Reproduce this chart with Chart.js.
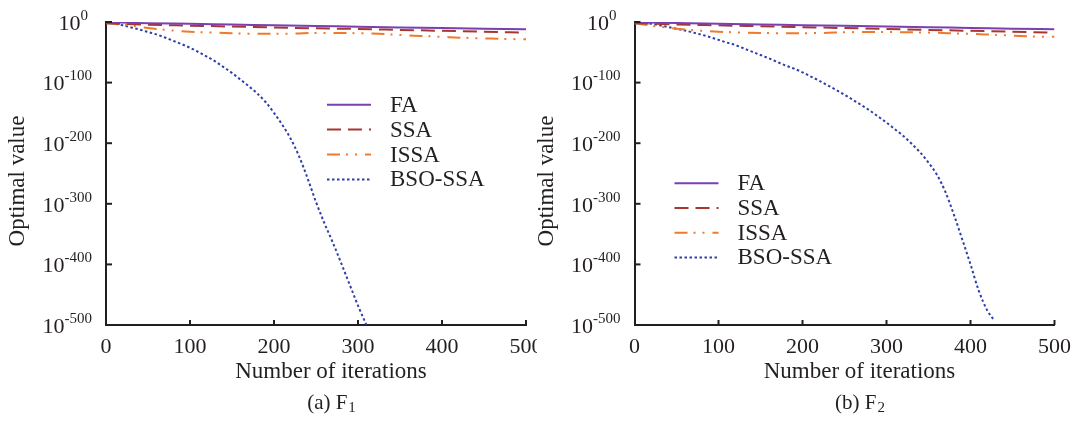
<!DOCTYPE html>
<html><head><meta charset="utf-8">
<script src="https://cdn.jsdelivr.net/npm/chart.js@4.4.0/dist/chart.umd.min.js"></script>
<style>
html,body{margin:0;padding:0;background:#fff;}
#wrap{position:relative;width:1075px;height:421px;overflow:hidden;}
.panel{position:absolute;top:0;height:421px;}
canvas{display:block;}
</style></head><body>
<div id="wrap">
<div class="panel" style="left:0;width:537px"><canvas id="c1" width="537" height="421"></canvas></div>
<div class="panel" style="left:537px;width:538px"><canvas id="c2" width="538" height="421"></canvas></div>
</div>
<script>
// ---------- data (y values are log10 of the optimal value) ----------
const seriesNames = ['FA', 'SSA', 'ISSA', 'BSO-SSA'];
const xTicks = [0, 100, 200, 300, 400, 500];
const yTickExponents = [0, -100, -200, -300, -400, -500];
const xTitle = 'Number of iterations';
const yTitle = 'Optimal value';

const iter50 = [0, 50, 100, 150, 200, 250, 300, 350, 400, 450, 500];
const iter25 = [0, 25, 50, 75, 100, 125, 150, 175, 200, 225, 250, 275, 300, 325, 350, 375, 400, 425, 450, 475, 500];

// Panel (a) F1
const f1FA   = [-0.5, -2, -3, -4.2, -5.3, -6.5, -7.7, -8.9, -10, -11, -12];
const f1SSA  = [-2, -4.5, -6, -7.5, -9, -10.5, -11.5, -13, -14.5, -16, -17.5];
const f1ISSA = [-2, -5, -10, -13.5, -16, -17.5, -18.5, -19.5, -19.5, -19, -18, -18, -18.5, -19.5, -21.5, -23, -24.5, -26, -27, -28, -28.5];
const f1BSOIter = [0, 10, 20, 30, 40, 50, 60, 70, 80, 90, 100, 110, 120, 130, 140, 150, 160, 170, 180, 190, 200, 210, 220, 230, 240, 250, 260, 270, 280, 290, 300, 310];
const f1BSO  = [0, -2.5, -5.5, -9, -12.5, -16.5, -20.5, -25.5, -31, -36.5, -42.5, -49.5, -57, -65, -74.5, -84, -95, -106, -118, -132, -150, -170, -193, -222, -258, -297, -332, -364, -398, -433, -468, -500];

// Panel (b) F2
const f2FA   = [-0.5, -1.8, -2.9, -4, -5.2, -6.3, -7.5, -8.7, -9.8, -11, -12];
const f2SSA  = [-2, -4, -5.5, -7, -8.5, -10, -11.5, -13, -14.5, -16, -17.5];
const f2ISSA = [-2, -7, -11, -14, -16, -17.2, -18, -18.5, -18.5, -18, -17, -16.5, -16.5, -17, -17.5, -18.5, -19.5, -21, -22.5, -24, -24.5];
const f2BSOIter = [0, 10, 20, 30, 40, 50, 60, 70, 80, 90, 100, 110, 120, 130, 140, 150, 160, 170, 180, 190, 200, 210, 220, 230, 240, 250, 260, 270, 280, 290, 300, 310, 320, 330, 340, 350, 360, 370, 380, 390, 400, 410, 420, 428];
const f2BSO  = [0, -1, -3, -5.5, -8.3, -11, -14, -17.5, -21, -25, -29.5, -34, -38, -43.5, -49, -54.5, -60, -66, -72, -77, -83, -90, -97, -104.5, -112, -120, -128.5, -137, -146, -156, -166, -177, -188, -201, -215, -232, -252, -280, -317, -358, -400, -444, -476, -492];

// ---------- styles ----------
const FONT = '"Liberation Serif","Times New Roman",serif';
const INK = '#231f20';
const styles = {
  'FA':      { color: '#7B3FB0', dash: [] },
  'SSA':     { color: '#A5382E', dash: [14, 7] },
  'ISSA':    { color: '#EF7A2E', dash: [13, 6, 2, 7, 2, 8] },
  'BSO-SSA': { color: '#2F3FA8', dash: [2.5, 2.5] }
};

function pts(xs, ys) { return xs.map((x, i) => ({ x: x, y: ys[i] })); }

function ds(name, xs, ys) {
  const s = styles[name];
  return {
    label: name,
    data: pts(xs, ys),
    borderColor: s.color,
    backgroundColor: s.color,
    borderDash: s.dash,
    borderWidth: 2,
    pointRadius: 0,
    fill: false,
    cubicInterpolationMode: 'monotone'
  };
}

const panelPlugin = {
  id: 'panelTexts',
  afterDraw(chart, args, o) {
    const ctx = chart.ctx, a = chart.chartArea;
    const xs = chart.scales.x, ys = chart.scales.y;
    ctx.save();
    ctx.strokeStyle = INK; ctx.fillStyle = INK; ctx.lineWidth = 2;
    ctx.setLineDash([]);
    // inward tick marks
    ys.ticks.forEach(t => {
      const py = ys.getPixelForValue(t.value);
      ctx.beginPath(); ctx.moveTo(a.left, py); ctx.lineTo(a.left + 6, py); ctx.stroke();
    });
    xs.ticks.forEach(t => {
      const px = xs.getPixelForValue(t.value);
      if (t.value === 0) return;
      ctx.beginPath(); ctx.moveTo(px, a.bottom); ctx.lineTo(px, a.bottom - 5); ctx.stroke();
    });
    // y tick labels 10^e
    ctx.textBaseline = 'alphabetic';
    ctx.textAlign = 'left';
    ys.ticks.forEach(t => {
      const py = ys.getPixelForValue(t.value);
      const sup = String(t.value);
      ctx.font = '15px ' + FONT;
      const wSup = ctx.measureText(sup).width;
      ctx.font = '22px ' + FONT;
      const wBase = ctx.measureText('10').width;
      const right = a.left - (t.value === 0 ? 18 : 14);
      ctx.fillText('10', right - wSup - wBase, py + 7.7);
      ctx.font = '15px ' + FONT;
      ctx.fillText(sup, right - wSup, py - 2.3);
    });
    // x tick labels
    ctx.font = '22px ' + FONT;
    ctx.textAlign = 'center';
    xs.ticks.forEach(t => {
      const px = xs.getPixelForValue(t.value);
      ctx.fillText(String(t.value), px, a.bottom + 27.7);
    });
    // axis titles
    const cx = (a.left + a.right) / 2 + 15;
    ctx.font = '23px ' + FONT;
    ctx.fillText(xTitle, cx, a.bottom + 53.3);
    ctx.save();
    ctx.translate(a.left - 88, 181);
    ctx.rotate(-Math.PI / 2);
    ctx.textBaseline = 'middle';
    ctx.fillText(yTitle, 0, 0);
    ctx.restore();
    // caption with subscript
    ctx.textAlign = 'left';
    ctx.font = '21px ' + FONT;
    const wMain = ctx.measureText(o.caption).width;
    ctx.font = '15px ' + FONT;
    const wSub = ctx.measureText(o.sub).width;
    const sx = cx - (wMain + wSub) / 2;
    ctx.font = '21px ' + FONT;
    ctx.fillText(o.caption, sx, a.bottom + 84);
    ctx.font = '15px ' + FONT;
    ctx.fillText(o.sub, sx + wMain + 1, a.bottom + 87);
    // legend
    ctx.font = '23px ' + FONT;
    ctx.textBaseline = 'middle';
    chart.data.datasets.forEach((d, i) => {
      const ly = a.top + o.legendDy + i * o.legendGap;
      const lx = a.left + o.legendDx;
      ctx.strokeStyle = d.borderColor;
      ctx.setLineDash(d.borderDash);
      ctx.lineWidth = 2;
      ctx.beginPath(); ctx.moveTo(lx, ly); ctx.lineTo(lx + 44, ly); ctx.stroke();
      ctx.setLineDash([]);
      ctx.fillStyle = INK;
      ctx.fillText(d.label, lx + 63, ly + 1);
    });
    ctx.restore();
  }
};

function makeChart(id, datasets, pad, opts) {
  return new Chart(document.getElementById(id), {
    type: 'line',
    data: { datasets: datasets },
    plugins: [panelPlugin],
    options: {
      responsive: false,
      animation: false,
      devicePixelRatio: 1,
      layout: { padding: pad },
      plugins: { legend: { display: false }, tooltip: { enabled: false }, panelTexts: opts },
      scales: {
        x: {
          type: 'linear', min: 0, max: 500,
          afterBuildTicks: s => { s.ticks = xTicks.map(v => ({ value: v })); },
          ticks: { display: false },
          grid: { display: false, drawTicks: false, tickLength: 0 },
          border: { display: true, color: INK, width: 2 }
        },
        y: {
          type: 'linear', min: -500, max: 0,
          afterBuildTicks: s => { s.ticks = yTickExponents.map(v => ({ value: v })); },
          ticks: { display: false },
          grid: { display: false, drawTicks: false, tickLength: 0 },
          border: { display: true, color: INK, width: 2 }
        }
      }
    }
  });
}

makeChart('c1', [
  ds('FA', iter50, f1FA),
  ds('SSA', iter50, f1SSA),
  ds('ISSA', iter25, f1ISSA),
  ds('BSO-SSA', f1BSOIter, f1BSO)
], { left: 106, right: 11, top: 22, bottom: 96 },
{ caption: '(a) F', sub: '1', legendDx: 221, legendDy: 82.7, legendGap: 24.9 });

makeChart('c2', [
  ds('FA', iter50, f2FA),
  ds('SSA', iter50, f2SSA),
  ds('ISSA', iter25, f2ISSA),
  ds('BSO-SSA', f2BSOIter, f2BSO)
], { left: 97.5, right: 20.5, top: 22, bottom: 96 },
{ caption: '(b) F', sub: '2', legendDx: 40, legendDy: 161.3, legendGap: 24.7 });
</script>
</body></html>
